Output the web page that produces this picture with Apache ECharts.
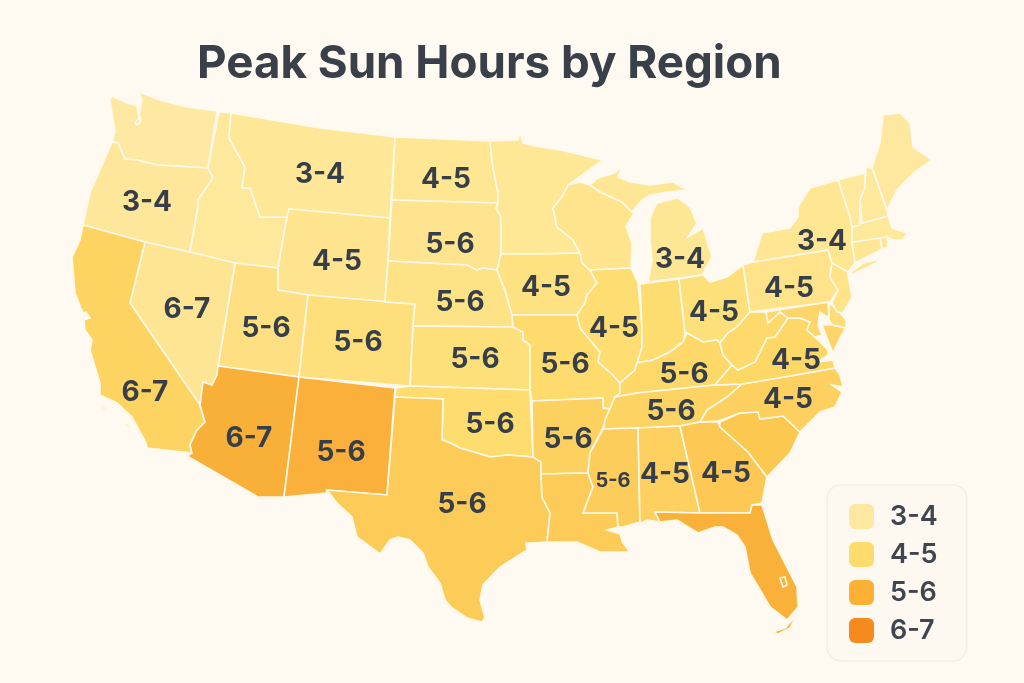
<!DOCTYPE html>
<html>
<head>
<meta charset="utf-8">
<style>html,body{margin:0;padding:0;background:#fef9f1}#chart{width:1024px;height:683px}</style>
<script src="https://cdn.jsdelivr.net/npm/echarts@6/dist/echarts.min.js"></script>
</head>
<body>
<div id="chart"></div>
<script>
// band shown in the legend
var bandNames = ['3-4', '4-5', '5-6', '6-7'];
var bandColors = ['#fee8a0', '#fedc6c', '#fcb135', '#f78a1e'];

// state, fill
var stateColors = {
  Washington: '#fee9a3', Oregon: '#fee79a', California: '#fdd362', Nevada: '#fee594', Idaho: '#fee89c',
  Montana: '#fee796', Wyoming: '#fee48e', Utah: '#fee083', Arizona: '#f9b038', NewMexico: '#fbb03b',
  Colorado: '#fedf7c', NorthDakota: '#fee692', SouthDakota: '#fee48f', Nebraska: '#fee286', Kansas: '#fee07a',
  Oklahoma: '#fedc6e', Texas: '#fdcb57', Minnesota: '#fee795', Iowa: '#fee180', Missouri: '#fedb6c',
  Arkansas: '#fdd160', Louisiana: '#fdcb57', Wisconsin: '#fee48c', Illinois: '#fedd72', Michigan: '#fee794',
  Indiana: '#fedd70', Ohio: '#fee07a', Kentucky: '#fed869', Tennessee: '#fdd363', Mississippi: '#fdcd5b',
  Alabama: '#fdd05f', Georgia: '#fdc954', Florida: '#fab139', SouthCarolina: '#fdc850', NorthCarolina: '#fdd05f',
  Virginia: '#fdd866', WestVirginia: '#fed96b', Maryland: '#fed56a', Delaware: '#fedd78', Pennsylvania: '#fee38a',
  NewJersey: '#fee389', NewYork: '#fee692', Connecticut: '#fee794', RhodeIsland: '#fee794', Massachusetts: '#fee89a',
  Vermont: '#fee89c', NewHampshire: '#fee89c', Maine: '#fee89f'
};

// printed label per state, with where it sits in the picture
var stateLabels = {
  Oregon: '3-4', Montana: '3-4', NorthDakota: '4-5', Wyoming: '4-5', SouthDakota: '5-6', Nebraska: '5-6',
  Nevada: '6-7', Utah: '5-6', Colorado: '5-6', Kansas: '5-6', Iowa: '4-5', Illinois: '4-5', Missouri: '5-6',
  Michigan: '3-4', Ohio: '4-5', Pennsylvania: '4-5', NewYork: '3-4', Virginia: '4-5', Kentucky: '5-6',
  Tennessee: '5-6', NorthCarolina: '4-5', Oklahoma: '5-6', Arkansas: '5-6', Texas: '5-6', NewMexico: '5-6',
  Arizona: '6-7', California: '6-7', Mississippi: '5-6', Alabama: '4-5', Georgia: '4-5'
};
var labelSpots = {
  Oregon: [147, 203], Montana: [320, 175], NorthDakota: [446, 180], Wyoming: [337, 262], SouthDakota: [450, 245],
  Nebraska: [460, 303], Nevada: [187, 310], Utah: [266, 329], Colorado: [358, 343], Kansas: [475, 360],
  Iowa: [546, 288], Illinois: [614, 329], Missouri: [565, 365], Michigan: [680, 260], Ohio: [714, 313],
  Pennsylvania: [789, 289], NewYork: [822, 242], Virginia: [796, 361], Kentucky: [684, 375], Tennessee: [671, 412],
  NorthCarolina: [788, 400], Oklahoma: [490, 425], Arkansas: [568, 440], Texas: [462, 505], NewMexico: [341, 453],
  Arizona: [249, 439], California: [145, 393], Mississippi: [613, 481], Alabama: [665, 475], Georgia: [726, 474]
};

// outlines, each state is a list of polygons, a polygon is a list of rings
var stateShapes = {
  Washington: [[[[112,96],[127,103],[137,106],[139,117],[141,104],[142,100],[139,92],[160,100],[187,107],[217,111],[208,168],[157,165],[137,160],[125,159],[118,143],[112,142],[115,132],[110,100]],[[135,123],[140,117],[141,121],[137,125]]]],
  Oregon: [[[[112,142],[118,143],[125,159],[137,160],[157,165],[208,168],[213,178],[198,200],[198,207],[190,252],[145,242],[83,225],[90,193]]]],
  Idaho: [[[[219,112],[231,113],[229,138],[245,167],[242,188],[250,188],[260,217],[287,217],[278,268],[235,263],[190,252],[198,207],[198,200],[213,178],[208,168]]]],
  Montana: [[[[231,113],[320,128],[395,137],[390,218],[289,209],[287,217],[260,217],[250,188],[242,188],[245,167],[229,138]]]],
  Wyoming: [[[[289,209],[390,218],[388,261],[385,302],[308,295],[278,290],[278,268],[287,217]]]],
  Utah: [[[[235,263],[278,268],[278,290],[308,295],[299,377],[218,366]]]],
  Nevada: [[[[145,242],[190,252],[235,263],[218,366],[217,375],[212,385],[203,382],[200,405],[130,303]]]],
  California: [
    [[[83,225],[145,242],[130,303],[200,405],[205,422],[197,430],[190,445],[192,453],[147,448],[146,443],[132,417],[117,403],[100,395],[100,383],[90,350],[92,340],[85,330],[84,320],[90,318],[86,312],[83,313],[75,293],[72,257],[80,240]]],
    [[[102,407],[106,407],[106,409],[102,409]]], [[[126,423],[130,426],[129,428],[125,425]]]
  ],
  Arizona: [[[[218,366],[299,377],[284,497],[258,497],[187,456],[192,453],[190,445],[197,430],[205,422],[200,405],[203,382],[212,385],[217,375]]]],
  NewMexico: [[[[299,377],[395,388],[387,495],[327,490],[326,493],[284,497]]]],
  Colorado: [[[[308,295],[415,304],[413,326],[410,386],[299,377]]]],
  NorthDakota: [[[[395,137],[490,141],[492,162],[498,193],[498,203],[392,200]]]],
  SouthDakota: [[[[392,200],[498,203],[496,208],[501,217],[501,254],[497,270],[483,268],[477,270],[467,265],[388,261]]]],
  Nebraska: [[[[388,261],[467,265],[477,270],[483,268],[497,270],[505,290],[512,315],[513,327],[413,326],[415,304],[385,302]]]],
  Kansas: [[[[413,326],[513,327],[523,332],[523,340],[530,345],[530,390],[410,386]]]],
  Oklahoma: [[[[396,388],[410,386],[530,390],[533,457],[507,455],[490,457],[477,453],[460,448],[448,442],[442,440],[443,399],[395,397]]]],
  Texas: [[[[395,397],[443,399],[442,440],[448,442],[460,448],[477,453],[490,457],[507,455],[533,457],[541,462],[541,474],[542,497],[550,513],[547,542],[532,543],[526,543],[527,550],[500,567],[483,585],[480,600],[485,618],[482,622],[467,618],[452,608],[445,600],[440,583],[428,567],[423,553],[410,540],[398,537],[390,540],[380,554],[357,537],[352,517],[337,503],[327,490],[387,495]]]],
  Minnesota: [[[[490,141],[518,140],[520,132],[523,143],[540,147],[560,150],[603,160],[568,185],[562,197],[553,208],[557,227],[573,240],[580,253],[540,254],[501,254],[501,217],[496,208],[498,203],[498,193],[492,162]]]],
  Iowa: [[[[501,254],[540,254],[580,253],[582,263],[590,270],[597,283],[587,295],[585,303],[577,315],[540,315],[512,315],[505,290],[497,270]]]],
  Missouri: [[[[512,315],[577,315],[580,328],[590,340],[600,352],[598,362],[613,375],[620,383],[620,393],[610,409],[603,408],[603,398],[532,401],[530,390],[530,345],[523,340],[523,332],[513,327]]]],
  Arkansas: [[[[532,401],[603,398],[603,408],[610,409],[603,428],[590,453],[588,473],[541,474],[541,462],[533,457]]]],
  Louisiana: [[[[541,474],[588,473],[593,487],[583,513],[617,513],[618,527],[607,530],[620,534],[623,543],[630,552],[600,552],[577,542],[547,542],[550,513],[542,497]]]],
  Wisconsin: [[[[568,185],[580,182],[590,185],[600,192],[622,202],[632,212],[642,200],[626,226],[632,243],[631,268],[590,270],[582,263],[580,253],[573,240],[557,227],[553,208],[562,197]]]],
  Michigan: [
    [[[590,185],[598,178],[615,173],[623,165],[618,177],[630,182],[650,185],[673,182],[687,190],[668,192],[650,195],[642,200],[632,212],[622,202],[600,192]]],
    [[[678,198],[690,207],[697,223],[688,237],[703,228],[712,257],[702,275],[648,282],[652,260],[650,240],[650,218],[657,203]]]
  ],
  Illinois: [[[[590,270],[631,268],[638,283],[642,327],[642,347],[635,370],[620,383],[613,375],[598,362],[600,352],[590,340],[580,328],[577,315],[585,303],[587,295],[597,283]]]],
  Indiana: [[[[640,284],[679,279],[685,333],[683,342],[670,352],[653,360],[637,363],[635,370],[642,347],[642,327]]]],
  Ohio: [[[[679,279],[703,275],[710,282],[727,277],[743,265],[750,312],[737,327],[728,333],[720,343],[717,340],[703,342],[687,333],[685,333]]]],
  Kentucky: [[[[620,383],[635,370],[637,363],[653,360],[670,352],[683,342],[687,333],[703,342],[717,340],[720,343],[723,355],[732,365],[715,385],[637,393],[615,397],[620,393]]]],
  Tennessee: [[[[615,397],[637,393],[715,385],[742,384],[727,397],[707,410],[700,422],[680,426],[638,428],[603,429],[605,420]]]],
  Mississippi: [[[[603,429],[638,428],[640,522],[623,527],[618,527],[617,513],[583,513],[593,487],[588,473],[590,453]]]],
  Alabama: [[[[638,428],[680,426],[700,513],[655,512],[660,522],[647,520],[642,523],[640,522]]]],
  Georgia: [[[[680,426],[700,422],[718,422],[720,427],[748,452],[767,477],[762,503],[752,505],[750,513],[700,513]]]],
  Florida: [
    [[[655,512],[700,513],[750,513],[752,505],[762,505],[773,540],[797,587],[798,607],[787,620],[770,607],[762,593],[750,573],[745,547],[737,535],[723,527],[715,527],[698,533],[677,520],[660,522]],[[780,578],[785,577],[787,585],[783,587]]],
    [[[773,632],[785,628],[797,615],[790,628],[778,634]]]
  ],
  SouthCarolina: [[[[720,422],[740,413],[758,412],[760,419],[783,416],[800,432],[790,453],[767,477],[748,452],[720,427]]]],
  NorthCarolina: [[[[742,384],[790,376],[835,368],[840,375],[843,387],[832,385],[842,392],[835,407],[820,412],[800,432],[783,416],[760,419],[758,412],[740,413],[718,421],[700,422],[707,410],[727,397]]]],
  Virginia: [[[[732,365],[738,370],[755,362],[767,338],[775,337],[788,318],[800,318],[810,322],[807,330],[815,337],[828,350],[828,355],[818,362],[833,360],[835,368],[790,376],[742,384],[715,385]]]],
  WestVirginia: [[[[750,312],[766,312],[768,323],[780,312],[788,318],[775,337],[767,338],[755,362],[738,370],[732,365],[723,355],[720,343],[728,333],[737,327]]]],
  Maryland: [
    [[[766,312],[828,302],[829,318],[820,312],[818,325],[822,335],[815,337],[807,330],[810,322],[800,318],[788,318],[780,312],[768,323]]],
    [[[832,325],[846,328],[841,336],[833,353],[827,338],[822,325]]]
  ],
  Delaware: [[[[829,303],[836,308],[846,320],[846,328],[832,325],[829,320]]]],
  Pennsylvania: [[[[743,265],[753,262],[828,250],[832,263],[830,277],[838,290],[830,302],[750,312]]]],
  NewJersey: [[[[832,263],[847,270],[852,297],[843,313],[837,312],[832,303],[838,290],[830,277]]]],
  NewYork: [
    [[[753,262],[762,233],[790,228],[798,217],[798,207],[810,188],[838,180],[850,217],[852,227],[852,242],[855,263],[848,272],[832,263],[828,250]]],
    [[[877,260],[878,262],[853,274],[851,272],[863,263]]]
  ],
  Connecticut: [[[[852,242],[880,237],[882,249],[855,263]]]],
  RhodeIsland: [[[[880,237],[887,237],[888,247],[882,249]]]],
  Massachusetts: [[[[852,227],[862,223],[888,216],[892,228],[907,233],[903,240],[893,240],[887,237],[852,242]]]],
  Vermont: [[[[838,180],[865,173],[865,187],[860,200],[860,225],[852,227],[850,217]]]],
  NewHampshire: [[[[866,167],[872,168],[887,210],[888,216],[862,223],[860,200],[865,187]]]],
  Maine: [[[[872,167],[880,143],[883,115],[900,113],[910,123],[913,147],[932,160],[913,173],[897,190],[887,210]]]]
};

var features = Object.keys(stateShapes).map(function (name) {
  return {
    type: 'Feature',
    properties: { name: name, cp: labelSpots[name] },
    geometry: { type: 'MultiPolygon', coordinates: stateShapes[name] }
  };
});
echarts.registerMap('usa', { type: 'FeatureCollection', features: features });

// the outlines are already in page pixels, so find their box to place them 1:1
var minX = Infinity, maxX = -Infinity, minY = Infinity, maxY = -Infinity;
features.forEach(function (f) {
  f.geometry.coordinates.forEach(function (poly) {
    poly[0].forEach(function (p) {
      minX = Math.min(minX, p[0]); maxX = Math.max(maxX, p[0]);
      minY = Math.min(minY, p[1]); maxY = Math.max(maxY, p[1]);
    });
  });
});

var chart = echarts.init(document.getElementById('chart'));
var mapData = Object.keys(stateShapes).map(function (name) {
  var item = { name: name, value: 1, itemStyle: { areaColor: stateColors[name] } };
  if (name === 'Mississippi') item.label = { fontSize: 20 };
  return item;
});

var series = [{
  type: 'map',
  map: 'usa',
  projection: { project: function (p) { return p; }, unproject: function (p) { return p; } },
  layoutCenter: [(minX + maxX) / 2, (minY + maxY) / 2],
  layoutSize: Math.max(maxX - minX, maxY - minY),
  roam: false,
  silent: true,
  selectedMode: false,
  showLegendSymbol: false,
  itemStyle: { borderColor: '#fff9ea', borderWidth: 1.6 },
  label: {
    show: true,
    position: 'inside',
    fontFamily: 'Inter',
    fontWeight: 700,
    fontSize: 28,
    color: '#363e49',
    formatter: function (p) { return stateLabels[p.name] || ''; }
  },
  data: mapData
}];
bandNames.forEach(function (name, i) {
  series.push({ type: 'bar', name: name, data: [], itemStyle: { color: bandColors[i], borderRadius: 4 } });
});

chart.setOption({
  animation: false,
  backgroundColor: '#fef9f1',
  title: {
    text: 'Peak Sun Hours by Region',
    left: 192,
    top: 36,
    textStyle: { fontFamily: 'Inter', fontWeight: 700, fontSize: 45.7, color: '#3a4049' }
  },
  grid: { show: false },
  xAxis: { show: false },
  yAxis: { show: false },
  legend: {
    orient: 'vertical',
    left: 827,
    top: 485,
    padding: [18, 29, 17, 22],
    itemWidth: 25,
    itemHeight: 25,
    itemGap: 11,
    icon: 'roundRect',
    backgroundColor: '#fdf9f1',
    borderColor: '#f4efe4',
    borderWidth: 1.5,
    borderRadius: 14,
    selectedMode: false,
    textStyle: { fontFamily: 'Inter', fontWeight: 600, fontSize: 27, color: '#40454f', padding: [0, 0, 0, 11] },
    data: bandNames
  },
  series: series
});
</script>
</body>
</html>
